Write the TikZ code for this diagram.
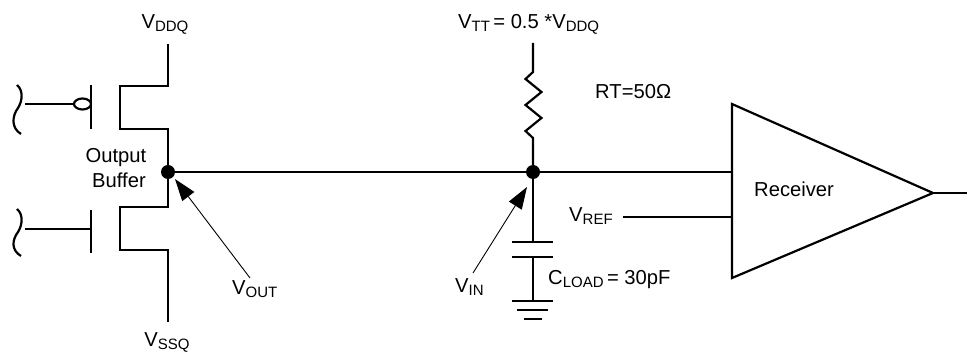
\documentclass[tikz,border=0pt]{standalone}
\usepackage{fontspec}
\setmainfont{Liberation Sans}
\usetikzlibrary{arrows.meta,shapes.geometric}
\newcommand\mysub[1]{\raisebox{-2.5pt}{\fontsize{15}{15}\selectfont #1}}
\newcommand\lblfont{\fontsize{20.2}{24}\selectfont}
\begin{document}
\begin{tikzpicture}[x=1pt,y=-1pt,
  wire/.style={line width=2.2pt, line join=miter},
  thin/.style={line width=0.9pt},
  ptr/.style={thin, -{Triangle[length=22pt,width=15pt]}},
  lbl/.style={font=\lblfont, inner sep=0pt},
  dotnode/.style={circle, fill=black, inner sep=0pt, minimum size=14pt}]
\useasboundingbox (0,0) rectangle (967,352);
% coordinates
\coordinate (vddtop) at (168,44);
\coordinate (vssbot) at (168,322);
\node[dotnode] (nout) at (168,172) {};
\node[dotnode] (nin) at (533,172) {};
\coordinate (rtop) at (533,43);
\coordinate (capt) at (533,242);
\coordinate (capb) at (533,257);
\coordinate (gnd) at (533,301);
% output buffer transistors
\draw[wire] (vddtop) -- (168,86) -- (120,86) -- (120,129) -- (168,129) -- (nout.center)
  -- (168,207) -- (120,207) -- (120,250) -- (168,250) -- (vssbot);
\draw[wire] (91,85) -- (91,129);
\draw[wire] (91,210) -- (91,253);
\coordinate (g1) at (25,104);
\coordinate (g2) at (25,229);
\node[draw, line width=2.2pt, ellipse, minimum width=17pt, minimum height=11pt, inner sep=0pt] (bub) at (82.5,104) {};
\draw[wire] (g1) -- (bub.west);
\draw[wire] (g2) -- (91,229);
% break marks
\draw[wire] (17,85) .. controls (23,90) and (23,100) .. (18,108) .. controls (12,116) and (11,128) .. (21,134);
\draw[wire] (17,209) .. controls (23,214) and (23,224) .. (18,232) .. controls (12,240) and (11,250) .. (21,256);
% main line
\coordinate (rxin) at (732,172);
\draw[wire] (nout.center) -- (rxin);
% resistor
\draw[wire] (rtop) -- (533,72) -- (525.5,79) -- (541.5,92) -- (525.5,105) -- (541.5,118) -- (525.5,131) -- (533,138) -- (nin.center);
% capacitor and ground
\draw[wire] (nin.center) -- (capt);
\draw[wire] (512,242) -- (553,242);
\draw[wire] (512,257) -- (553,257);
\draw[wire] (capb) -- (gnd);
\draw[wire] (512,301) -- (553,301);
\draw[wire] (517,310) -- (548,310);
\draw[wire] (524,319) -- (542,319);
% receiver
\coordinate (rxtl) at (732,104);
\coordinate (rxbl) at (732,278);
\coordinate (rxtip) at (933,193);
\coordinate (rxout) at (967,193);
\draw[wire] (rxtl) -- (rxtip) -- (rxbl) -- cycle;
\draw[wire] (rxtip) -- (rxout);
\coordinate (vrefa) at (623,217);
\coordinate (vrefb) at (732,217);
\draw[wire] (vrefa) -- (vrefb);
% labels
\node[lbl, anchor=base] (lvdd) at (165,29) {V\mysub{DDQ}};
\node[lbl, anchor=base] (lvss) at (167,347) {V\mysub{SSQ}};
\node[lbl, anchor=base west] (lvtt) at (458,29) {V\mysub{TT}\,= 0.5 *V\mysub{DDQ}};
\node[lbl, anchor=base west] (lrt) at (595,99) {RT=50Ω};
\node[lbl, anchor=base west] (lrx) at (754,197) {Receiver};
\node[lbl, anchor=base west] (lref) at (569,222) {V\mysub{REF}};
\node[lbl, anchor=base west] (lcl) at (548,285) {C\mysub{LOAD}\,= 30pF};
\node[lbl, anchor=base west] (lvin) at (455,293) {V\mysub{IN}};
\node[lbl, anchor=base west] (lvout) at (232,295) {V\mysub{OUT}};
\node[lbl, anchor=base] (lob1) at (116,163) {Output};
\node[lbl, anchor=base] (lob2) at (119,188) {Buffer};
% pointers
\coordinate (pout) at (250,278);
\coordinate (pin) at (473,273);
\draw[ptr] (pout) -- (175,179);
\draw[ptr] (pin) -- (527,187);
\end{tikzpicture}
\end{document}
